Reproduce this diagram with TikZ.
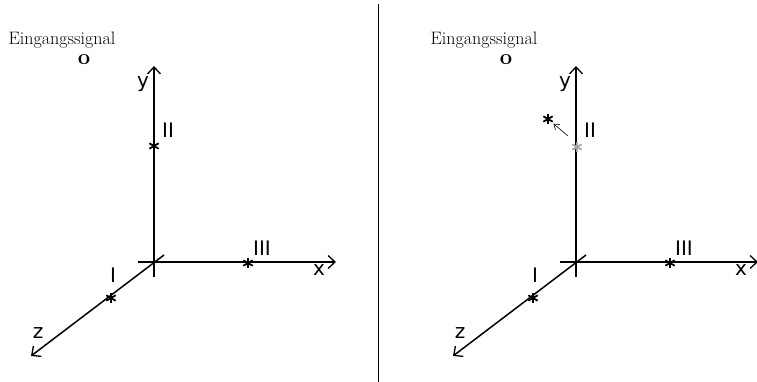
\documentclass[tikz,border=0pt]{standalone}
\usepackage{fontspec}
\newfontfamily\achsfont{DejaVu Sans}
\usetikzlibrary{arrows.meta, positioning}
\definecolor{sterngrau}{HTML}{A6A6A6}

\begin{document}
\begin{tikzpicture}[
    x=1pt, y=-1pt,
    achse/.style={line width=1.5pt, -{Straight Barb[length=7pt, width=13pt, line width=1.3pt]}},
    lbl/.style={font=\achsfont\fontsize{20}{20}\selectfont, inner sep=0pt},
    stern/.style={circle, inner sep=0pt, minimum size=14pt,
                  path picture={
                    \foreach \w in {90,30,-30}
                      \draw[line width=1.8pt, #1]
                        ([shift={(\w:5.4pt)}]path picture bounding box.center) --
                        ([shift={(\w+180:5.4pt)}]path picture bounding box.center);
                  }},
    stern/.default=black,
    signal/.style={font=\fontsize{18}{20}\selectfont, inner sep=0pt},
    quelle/.style={font=\fontsize{22}{22}\selectfont\bfseries, inner sep=0pt},
    zeiger/.style={line width=0.6pt, -{Straight Barb[length=5pt, width=7pt, line width=0.6pt]}}
  ]
    \useasboundingbox (0,0) rectangle (757,382);

    % linke Seite
    \begin{scope}
      \node[signal] (ein) at (62,40) {Eingangssignal};
      \node[quelle] (o) at (84,60) {o};

      \coordinate (O) at (154,262);
      \coordinate (ytip) at (154,66);
      \coordinate (yend) at (154,277);
      \coordinate (xtip) at (336,262);
      \coordinate (xend) at (138,262);
      \coordinate (ztip) at (31,356);
      \coordinate (zend) at (164,255);

      \draw[achse] (yend) -- (ytip);
      \draw[achse] (xend) -- (xtip);
      \draw[achse] (zend) -- (ztip);

      \node[lbl] (y) at (143,84) {y};
      \node[lbl] (x) at (319,270) {x};
      \node[lbl] (z) at (38,333) {z};

      \node[stern] (s2) at (154,146) {};
      \node[stern] (s3) at (248,263) {};
      \node[stern] (s1) at (111,298) {};
      \node[lbl] (l2) at (168,130) {II};
      \node[lbl] (l3) at (262,248) {III};
      \node[lbl] (l1) at (113,275) {I};
    \end{scope}

    % Trennlinie
    \coordinate (top) at (378,4);
    \coordinate (bot) at (378,382);
    \draw[line width=1pt] (top) -- (bot);

    % rechte Seite
    \begin{scope}[xshift=422pt]
      \node[signal] (ein') at (62,40) {Eingangssignal};
      \node[quelle] (o') at (84,60) {o};

      \coordinate (O') at (154,262);
      \coordinate (ytip') at (154,66);
      \coordinate (yend') at (154,277);
      \coordinate (xtip') at (336,262);
      \coordinate (xend') at (138,262);
      \coordinate (ztip') at (31,356);
      \coordinate (zend') at (164,255);

      \draw[achse] (yend') -- (ytip');
      \draw[achse] (xend') -- (xtip');
      \draw[achse] (zend') -- (ztip');

      \node[lbl] (y') at (143,84) {y};
      \node[lbl] (x') at (319,270) {x};
      \node[lbl] (z') at (38,333) {z};

      \node[stern=sterngrau] (s2') at (155,147) {};
      \node[stern] (s3') at (248,263) {};
      \node[stern] (s1') at (111,298) {};
      \node[lbl] (l2') at (168,130) {II};
      \node[lbl] (l3') at (262,248) {III};
      \node[lbl] (l1') at (113,275) {I};

      \node[stern] (neu) at (126,119) {};
      \coordinate (von) at (146,136);
      \draw[zeiger] (von) -- (neu);
    \end{scope}
  \end{tikzpicture}
\end{document}
